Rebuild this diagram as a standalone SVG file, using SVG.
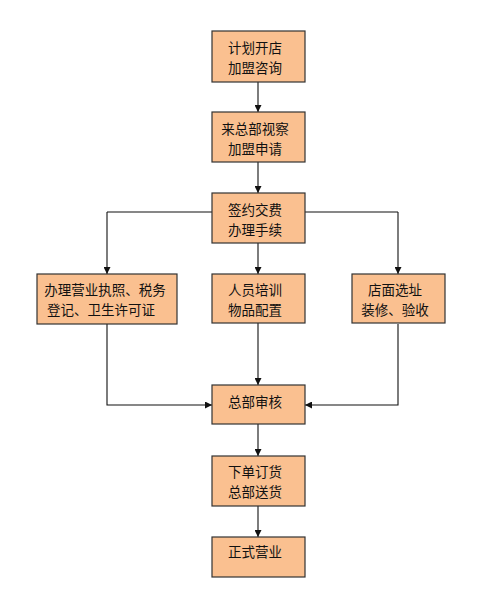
<svg xmlns="http://www.w3.org/2000/svg" width="500" height="602" viewBox="0 0 500 602">
<defs>
<style>
.box{fill:#FAC090;stroke:#333;stroke-width:1.2}
.t{font-family:"Noto Sans CJK SC","Noto Sans CJK TC",sans-serif;font-size:13.5px;fill:#111;text-anchor:middle}
.c{fill:none;stroke:#111;stroke-width:1.1}
</style>
<marker id="ah" viewBox="0 0 10 10" refX="10" refY="5" markerWidth="7" markerHeight="7" orient="auto" markerUnits="userSpaceOnUse">
<path d="M0,0 L10,5 L0,10 z" fill="#111"/>
</marker>
</defs>
<rect width="500" height="602" fill="#fff"/>
<g id="connectors">
<path class="c" d="M258,82 V112" marker-end="url(#ah)"/>
<path class="c" d="M258,162 V193" marker-end="url(#ah)"/>
<path class="c" d="M258,243 V274" marker-end="url(#ah)"/>
<path class="c" d="M107,212 H398"/>
<path class="c" d="M107,212 V274" marker-end="url(#ah)"/>
<path class="c" d="M398,212 V274" marker-end="url(#ah)"/>
<path class="c" d="M107,324 V405 H212" marker-end="url(#ah)"/>
<path class="c" d="M398,324 V405 H305" marker-end="url(#ah)"/>
<path class="c" d="M258,323 V385" marker-end="url(#ah)"/>
<path class="c" d="M258,424 V456" marker-end="url(#ah)"/>
<path class="c" d="M258,506 V537" marker-end="url(#ah)"/>
</g>
<g id="n1"><rect class="box" x="212" y="31" width="93" height="51"/><text class="t" x="255" y="53">计划开店</text><text class="t" x="255" y="73">加盟咨询</text></g>
<g id="n2"><rect class="box" x="212" y="112" width="93" height="50"/><text class="t" x="255" y="134">来总部视察</text><text class="t" x="255" y="154">加盟申请</text></g>
<g id="n3"><rect class="box" x="212" y="193" width="93" height="50"/><text class="t" x="255" y="215">签约交费</text><text class="t" x="255" y="235">办理手续</text></g>
<g id="n4"><rect class="box" x="37" y="274" width="140" height="50"/><text class="t" x="105" y="295">办理营业执照、税务</text><text class="t" x="101" y="315">登记、卫生许可证</text></g>
<g id="n5"><rect class="box" x="212" y="274" width="93" height="49"/><text class="t" x="255" y="295">人员培训</text><text class="t" x="255" y="315">物品配置</text></g>
<g id="n6"><rect class="box" x="352" y="274" width="93" height="49"/><text class="t" x="395" y="295">店面选址</text><text class="t" x="395" y="315">装修、验收</text></g>
<g id="n7"><rect class="box" x="212" y="385" width="93" height="39"/><text class="t" x="255" y="407">总部审核</text></g>
<g id="n8"><rect class="box" x="212" y="456" width="93" height="50"/><text class="t" x="255" y="477">下单订货</text><text class="t" x="255" y="497">总部送货</text></g>
<g id="n9"><rect class="box" x="212" y="537" width="93" height="40"/><text class="t" x="255" y="557">正式营业</text></g>
</svg>
